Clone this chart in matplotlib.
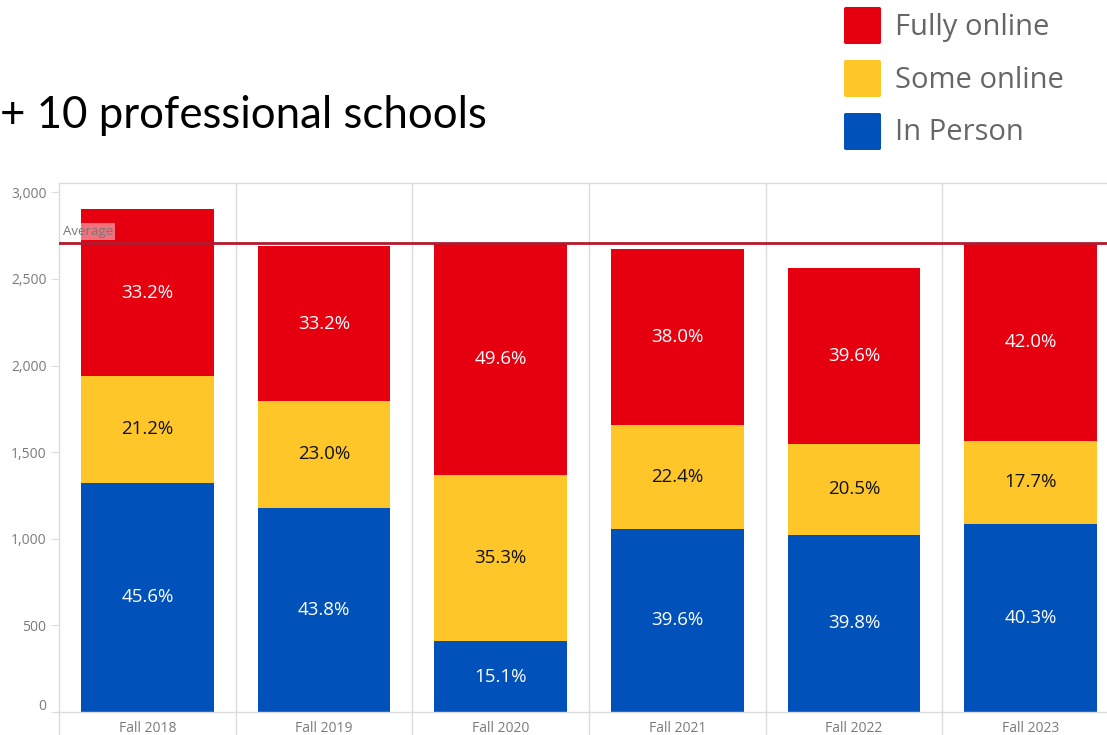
import matplotlib
matplotlib.use("Agg")
import matplotlib.pyplot as plt
import numpy as np

# Enrollment by term, split by delivery mode
terms = ["Fall 2018", "Fall 2019", "Fall 2020", "Fall 2021", "Fall 2022", "Fall 2023"]
totals = [2902, 2689, 2710, 2672, 2568, 2700]
pct_in_person = [45.6, 43.8, 15.1, 39.6, 39.8, 40.3]
pct_some_online = [21.2, 23.0, 35.3, 22.4, 20.5, 17.7]
pct_fully_online = [33.2, 33.2, 49.6, 38.0, 39.6, 42.0]
series_names = ["Fully online", "Some online", "In Person"]
y_ticks = [0, 500, 1000, 1500, 2000, 2500, 3000]

RED = "#E6000F"
YELLOW = "#FFC629"
BLUE = "#0051BA"
AVG = "#B21A2E"
GRID = "#DCDCDC"
TICK_TXT = "#7A7A7A"
FONT = ["Open Sans", "DejaVu Sans"]

fig = plt.figure(figsize=(11.07, 7.35), dpi=100)
W, H = 1107, 735

# plot area in pixel terms: x from 59 to 1119, y from 183 (top) to 712 (zero)
left, right, top, bottom = 59, 1119, 183, 712
ax = fig.add_axes([left / W, 1 - bottom / H, (right - left) / W, (bottom - top) / H])

totals_a = np.array(totals, dtype=float)
in_person = totals_a * np.array(pct_in_person) / 100
some_online = totals_a * np.array(pct_some_online) / 100
fully_online = totals_a * np.array(pct_fully_online) / 100

x = np.arange(len(terms))
bw = 0.75
ax.bar(x, in_person, bw, color=BLUE, zorder=2)
ax.bar(x, some_online, bw, bottom=in_person, color=YELLOW, zorder=2)
ax.bar(x, fully_online, bw, bottom=in_person + some_online, color=RED, zorder=2)

lab_font = dict(family=FONT, fontsize=13.5, ha="center", va="center", zorder=4)
for i in range(len(terms)):
    ax.text(x[i], in_person[i] / 2, f"{pct_in_person[i]:.1f}%", color="white", **lab_font)
    ax.text(x[i], in_person[i] + some_online[i] / 2, f"{pct_some_online[i]:.1f}%", color="#111111", **lab_font)
    ax.text(x[i], in_person[i] + some_online[i] + fully_online[i] / 2, f"{pct_fully_online[i]:.1f}%",
            color="white", **lab_font)

# average reference line
avg = totals_a.mean()
ax.axhline(avg, color=AVG, lw=2, zorder=3)
ax.text(0.004, avg + 30, "Average", transform=ax.get_yaxis_transform(), fontsize=9.5,
        color="#777777", ha="left", va="bottom", family=FONT, zorder=5,
        bbox=dict(boxstyle="square,pad=0.15", fc=(1, 1, 1, 0.45), ec="none"))

ax.set_xlim(-0.5, len(terms) - 0.5)
ax.set_ylim(0, 3000 * (bottom - top) / (bottom - 192.3))
ax.set_yticks(y_ticks)
ax.set_yticklabels([f"{v:,}" for v in y_ticks], color=TICK_TXT, fontsize=10, family=FONT)
ax.tick_params(axis="y", length=6, color=GRID, pad=3)
# lift the zero label clear of the baseline
zero_lbl = ax.get_yticklabels()[0]
zero_lbl.set_transform(zero_lbl.get_transform() +
                       matplotlib.transforms.ScaledTranslation(0, 8 / 100, fig.dpi_scale_trans))
ax.set_xticks([])

for s in ["left", "bottom", "top"]:
    ax.spines[s].set_color(GRID)
    ax.spines[s].set_linewidth(1)
ax.spines["right"].set_visible(False)

# column separators spanning plot and label band
for b in np.arange(0.5, len(terms) - 0.5, 1.0):
    ax.axvline(b, color=GRID, lw=1, zorder=1)
    ax.plot([b, b], [0, -0.06], transform=ax.get_xaxis_transform(), color=GRID, lw=1, clip_on=False)
ax.plot([-0.5, -0.5], [0, -0.06], transform=ax.get_xaxis_transform(), color=GRID, lw=1, clip_on=False)

for i, t in enumerate(terms):
    ax.text(x[i], -(728 - bottom) / (bottom - top), t, transform=ax.get_xaxis_transform(),
            ha="center", va="center", fontsize=10, color=TICK_TXT, family=FONT)

# heading
fig.text(0 / W, 1 - 115 / H, "+ 10 professional schools", fontsize=31.5, color="black",
         ha="left", va="center", family=["Lato", "DejaVu Sans"])

# legend swatches
colors = [RED, YELLOW, BLUE]
tops = [7, 60, 113]
for name, c, ty in zip(series_names, colors, tops):
    sq = matplotlib.patches.FancyBboxPatch((844 / W, 1 - (ty + 37) / H), 37 / W, 37 / H,
                                           boxstyle="round,pad=0,rounding_size=0.002",
                                           transform=fig.transFigure, fc=c, ec="none")
    fig.patches.append(sq)
    fig.text(895 / W, 1 - (ty + 20) / H, name, fontsize=21, color="#666666", ha="left", va="center",
             family=FONT)

fig.savefig("out.png", dpi=100)
